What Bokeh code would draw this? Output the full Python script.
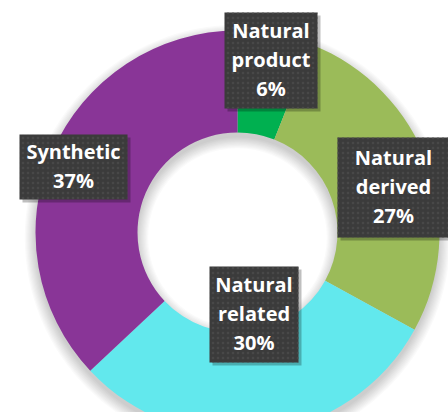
import math
from bokeh.plotting import figure
from bokeh.models import Range1d
from bokeh.core.properties import value
from bokeh.embed import file_html
from bokeh.resources import INLINE

# Share of compounds by origin, clockwise from 12 o'clock
categories = ["Natural product", "Natural derived", "Natural related", "Synthetic"]
shares = [6, 27, 30, 37]
colors = ["#00B050", "#9BBB59", "#62E8ED", "#893597"]

W, H = 448, 412
CX, CY = 237, H - 232
R_OUT, R_IN = 202, 100

p = figure(width=W, height=H, x_range=Range1d(0, W), y_range=Range1d(0, H),
           output_backend="svg", toolbar_location=None, min_border=0)
p.axis.visible = False
p.grid.visible = False
p.outline_line_color = None
p.background_fill_color = "white"
p.border_fill_color = "white"

# soft drop shadow under the ring
for k in range(10):
    p.annular_wedge(x=CX, y=CY - 5, inner_radius=R_IN - k * 1.2, outer_radius=R_OUT + k * 1.2,
                    start_angle=0, end_angle=2 * math.pi,
                    fill_color="black", fill_alpha=0.018, line_color=None)

# donut slices
total = sum(shares)
start = math.pi / 2
starts, ends = [], []
for s in shares:
    end = start - 2 * math.pi * s / total
    starts.append(start)
    ends.append(end)
    start = end
p.annular_wedge(x=[CX] * 4, y=[CY] * 4, inner_radius=R_IN, outer_radius=R_OUT,
                start_angle=ends, end_angle=starts, direction="anticlock",
                fill_color=colors, line_color=None)

# label boxes (center x, center y in screen px, width, height)
boxes = [(270.5, 60, 93, 96), (393, 187, 112, 100), (253.5, 314, 89, 96), (73, 166.5, 108, 65)]
bx = [b[0] for b in boxes]
by = [H - b[1] for b in boxes]
bw = [b[2] for b in boxes]
bh = [b[3] for b in boxes]

p.rect(x=[x + 3 for x in bx], y=[y - 3 for y in by], width=bw, height=bh,
       fill_color="black", fill_alpha=0.25, line_color=None)
p.rect(x=bx, y=by, width=bw, height=bh, fill_color="#3b3b3b", line_color=None,
       hatch_pattern="dot", hatch_color="#4d4d4d", hatch_scale=5, hatch_alpha=0.7)

labels = [c.replace(" ", "\n") + f"\n{s}%" for c, s in zip(categories, shares)]
p.text(x=bx, y=[y + 1 for y in by], text=labels, text_align="center", text_baseline="middle",
       text_font=value("Open Sans"), text_font_style="bold", text_font_size="20px",
       text_line_height=1.06, text_color="white")

open("out.html", "w").write(file_html(p, INLINE))
